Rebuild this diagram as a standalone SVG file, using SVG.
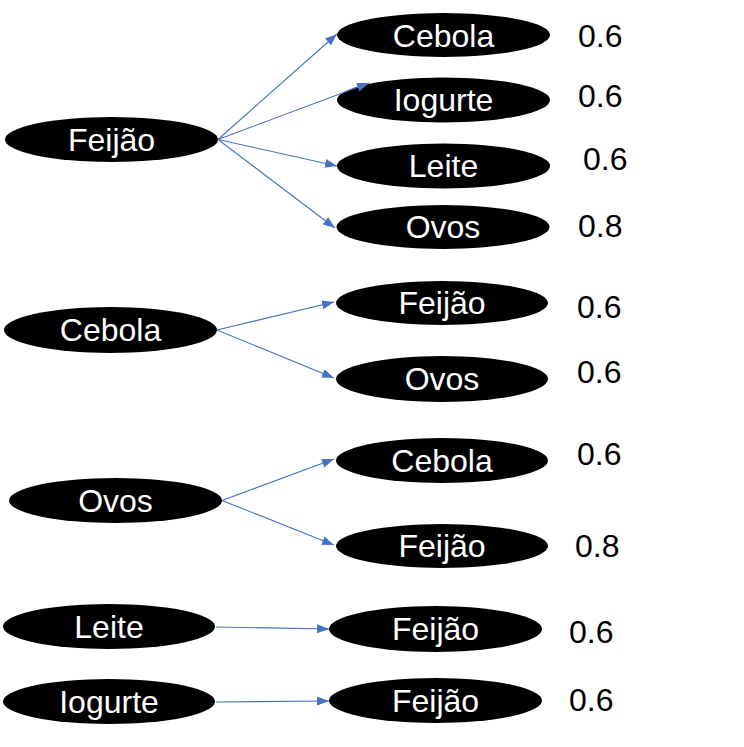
<svg xmlns="http://www.w3.org/2000/svg" width="744" height="747" viewBox="0 0 744 747">
<style>
.n ellipse{fill:#000}
.n text{fill:#fff;font-family:"Liberation Sans",Arial,sans-serif;font-size:32px;text-anchor:middle}
.w{fill:#000;font-family:"Liberation Sans",Arial,sans-serif;font-size:32px}
.e line{stroke:#4472C4;stroke-width:1.1;marker-end:url(#ah)}
</style>
<defs>
<marker id="ah" markerUnits="userSpaceOnUse" markerWidth="12" markerHeight="10" refX="12" refY="4.5" orient="auto">
<path d="M0,0 L12,4.5 L0,9 z" fill="#4472C4"/>
</marker>
</defs>
<rect width="744" height="747" fill="#fff"/>
<g class="n">
<g id="src-feijao"><ellipse cx="111.5" cy="139.5" rx="106.5" ry="22.5"/><text x="111.5" y="150.5">Feijão</text></g>
<g id="t1-cebola"><ellipse cx="443.5" cy="35" rx="106.5" ry="22"/><text x="443.5" y="46.5">Cebola</text></g>
<g id="t1-iogurte"><ellipse cx="443.5" cy="100" rx="106.5" ry="22.5"/><text x="443.5" y="111">Iogurte</text></g>
<g id="t1-leite"><ellipse cx="443.5" cy="166" rx="106.5" ry="22.5"/><text x="443.5" y="177">Leite</text></g>
<g id="t1-ovos"><ellipse cx="443" cy="227" rx="106.5" ry="22"/><text x="443" y="238">Ovos</text></g>
<g id="src-cebola"><ellipse cx="110.5" cy="330" rx="106.5" ry="23"/><text x="110.5" y="341">Cebola</text></g>
<g id="t2-feijao"><ellipse cx="442" cy="303" rx="106" ry="22"/><text x="442" y="314">Feijão</text></g>
<g id="t2-ovos"><ellipse cx="442" cy="379" rx="106" ry="23"/><text x="442" y="390">Ovos</text></g>
<g id="src-ovos"><ellipse cx="115.5" cy="500.5" rx="106.5" ry="22.5"/><text x="115.5" y="511.5">Ovos</text></g>
<g id="t3-cebola"><ellipse cx="442" cy="460.5" rx="106" ry="22.5"/><text x="442" y="471.5">Cebola</text></g>
<g id="t3-feijao"><ellipse cx="442" cy="546" rx="106" ry="22"/><text x="442" y="557">Feijão</text></g>
<g id="src-leite"><ellipse cx="109" cy="626.5" rx="106" ry="22.5"/><text x="109" y="637.5">Leite</text></g>
<g id="t4-feijao"><ellipse cx="435.5" cy="629" rx="106.5" ry="23"/><text x="435.5" y="640">Feijão</text></g>
<g id="src-iogurte"><ellipse cx="109" cy="701.5" rx="106" ry="22.5"/><text x="109" y="712.5">Iogurte</text></g>
<g id="t5-feijao"><ellipse cx="435.5" cy="700.5" rx="106.5" ry="22.5"/><text x="435.5" y="711.5">Feijão</text></g>
</g>
<g class="e" id="connectors">
<line x1="218" y1="139.5" x2="337" y2="34"/>
<line x1="218" y1="139.5" x2="369" y2="83"/>
<line x1="218" y1="139.5" x2="337" y2="166"/>
<line x1="218" y1="139.5" x2="335" y2="228"/>
<line x1="217" y1="330" x2="334" y2="302"/>
<line x1="217" y1="330" x2="334" y2="378"/>
<line x1="222" y1="500.5" x2="334" y2="459"/>
<line x1="222" y1="500.5" x2="334" y2="545"/>
<line x1="216" y1="627" x2="329" y2="629"/>
<line x1="216" y1="702" x2="329" y2="701"/>
</g>
<g id="weights">
<text class="w" x="578" y="47">0.6</text>
<text class="w" x="578" y="107">0.6</text>
<text class="w" x="583" y="170">0.6</text>
<text class="w" x="578" y="237">0.8</text>
<text class="w" x="577" y="318">0.6</text>
<text class="w" x="577" y="383">0.6</text>
<text class="w" x="577" y="465">0.6</text>
<text class="w" x="575" y="557">0.8</text>
<text class="w" x="569" y="643">0.6</text>
<text class="w" x="569" y="711">0.6</text>
</g>
</svg>
